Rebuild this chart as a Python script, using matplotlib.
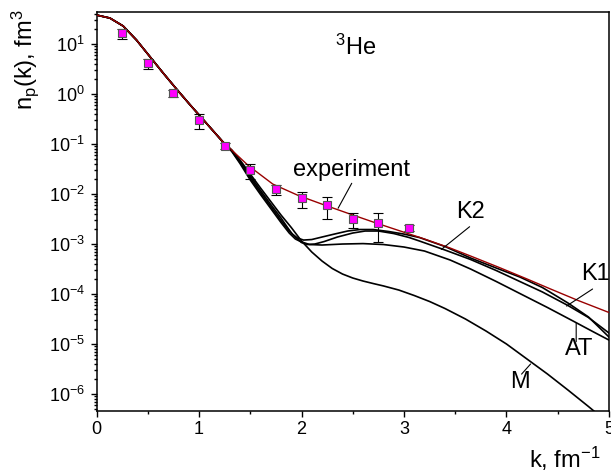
import matplotlib
matplotlib.use("Agg")
import matplotlib.pyplot as plt
from matplotlib.ticker import LogLocator, MultipleLocator, NullFormatter

plt.rcParams['font.family'] = ['Liberation Sans', 'DejaVu Sans']
plt.rcParams['mathtext.fontset'] = 'custom'
plt.rcParams['mathtext.rm'] = 'Liberation Sans'
plt.rcParams['mathtext.it'] = 'Liberation Sans:italic'
plt.rcParams['mathtext.bf'] = 'Liberation Sans:bold'
plt.rcParams['mathtext.default'] = 'regular'

# experimental points, 3He proton momentum distribution
k_exp = [0.25, 0.5, 0.75, 1.0, 1.25, 1.5, 1.75, 2.0, 2.25, 2.5, 2.75, 3.05]
n_exp = [16.3, 4.1, 1.03, 0.30, 0.091, 0.030, 0.0124, 0.0082, 0.0060, 0.0031, 0.0026, 0.0021]
err_exp = [3.7, 1.0, 0.15, 0.10, 0.012, 0.010, 0.0028, 0.0030, 0.0029, 0.0010, 0.0015, 0.0003]

# fit to experiment (red line)
k_fit = [0, 0.13, 0.26, 0.39, 0.52, 0.65, 0.78, 0.91, 1.04, 1.23, 1.48, 1.72, 1.97, 2.21,
         2.46, 2.70, 2.95, 3.2, 3.45, 3.65, 3.93, 4.2, 4.43, 4.7, 5.0]
n_fit = [38.0, 33.1, 22.9, 12.0, 5.62, 2.63, 1.26, 0.617, 0.309, 0.112, 0.0372, 0.0158,
         9.33e-3, 6.17e-3, 4.07e-3, 2.75e-3, 1.86e-3, 1.26e-3, 8.32e-4, 5.75e-4, 3.39e-4,
         2.0e-4, 1.26e-4, 7.41e-5, 4.27e-5]

# all models coincide with the fit below k ~ 1.25
k_low = [0, 0.13, 0.26, 0.39, 0.52, 0.65, 0.78, 0.91, 1.04, 1.23]
n_low = [38.0, 33.1, 22.9, 12.0, 5.62, 2.63, 1.26, 0.617, 0.309, 0.112]

k_K1 = [1.32, 1.4, 1.5, 1.6, 1.7, 1.8, 1.86, 1.91, 1.96, 2.02, 2.1, 2.2, 2.32, 2.45, 2.57,
        2.7, 2.85, 3.0, 3.15, 3.4, 3.65, 3.9, 4.13, 4.35, 4.6, 4.8, 5.0]
n_K1 = [0.0741, 0.0447, 0.0229, 0.01175, 6.17e-3, 3.31e-3, 2.19e-3, 1.58e-3, 1.32e-3, 1.20e-3,
        1.23e-3, 1.38e-3, 1.58e-3, 1.82e-3, 1.95e-3, 1.95e-3, 1.78e-3, 1.58e-3, 1.35e-3,
        8.91e-4, 5.25e-4, 3.31e-4, 2.19e-4, 1.35e-4, 6.61e-5, 3.47e-5, 1.38e-5]

k_K2 = [1.32, 1.4, 1.5, 1.6, 1.7, 1.8, 1.88, 1.95, 2.0, 2.06, 2.13, 2.22, 2.35, 2.5, 2.62,
        2.75, 2.9, 3.05, 3.15, 3.4, 3.65, 3.9, 4.13, 4.35, 4.6, 4.8, 5.0]
n_K2 = [0.0724, 0.0427, 0.0209, 0.0107, 5.62e-3, 2.95e-3, 1.82e-3, 1.32e-3, 1.07e-3, 9.77e-4,
        1.0e-3, 1.12e-3, 1.38e-3, 1.66e-3, 1.82e-3, 1.82e-3, 1.62e-3, 1.35e-3, 1.15e-3,
        7.59e-4, 4.90e-4, 2.95e-4, 1.78e-4, 1.10e-4, 5.89e-5, 3.39e-5, 1.66e-5]

k_AT = [1.32, 1.4, 1.5, 1.6, 1.7, 1.8, 1.88, 1.94, 2.0, 2.08, 2.2, 2.4, 2.6, 2.8, 3.0, 3.2,
        3.45, 3.65, 3.9, 4.15, 4.4, 4.65, 4.85, 5.0]
n_AT = [0.0708, 0.0407, 0.0191, 9.77e-3, 5.13e-3, 2.69e-3, 1.66e-3, 1.26e-3, 1.10e-3, 9.77e-4,
        9.55e-4, 1.0e-3, 1.02e-3, 9.77e-4, 8.71e-4, 7.24e-4, 4.79e-4, 3.16e-4, 1.78e-4,
        9.77e-5, 5.37e-5, 2.88e-5, 1.74e-5, 1.20e-5]

k_M = [1.32, 1.4, 1.5, 1.6, 1.7, 1.8, 1.9, 2.0, 2.1, 2.2, 2.3, 2.4, 2.5, 2.6, 2.7, 2.8, 2.95,
       3.1, 3.25, 3.4, 3.6, 3.8, 4.0, 4.2, 4.4, 4.6, 4.8, 4.9]
n_M = [0.0759, 0.0479, 0.0251, 0.0132, 7.08e-3, 3.80e-3, 2.14e-3, 1.15e-3, 6.92e-4, 4.57e-4,
       3.24e-4, 2.51e-4, 2.09e-4, 1.82e-4, 1.62e-4, 1.45e-4, 1.20e-4, 9.33e-5, 7.08e-5,
       5.13e-5, 3.16e-5, 1.82e-5, 1.0e-5, 5.01e-6, 2.51e-6, 1.20e-6, 5.62e-7, 3.80e-7]

fig = plt.figure(figsize=(6.11, 4.75), dpi=100)
ax = fig.add_axes([0.158, 0.1347, 0.8387, 0.84])

# model curves (black), drawn under the fit
for k_tail, n_tail in [(k_K1, n_K1), (k_K2, n_K2), (k_AT, n_AT), (k_M, n_M)]:
    ax.plot(k_low + k_tail, n_low + n_tail, color='black', lw=1.2, zorder=2)

ax.plot(k_fit, n_fit, color='#990000', lw=1.0, zorder=3)

ax.errorbar(k_exp, n_exp, yerr=err_exp, fmt='none', ecolor='black', elinewidth=0.8,
            capsize=3.5, capthick=0.8, zorder=4)
ax.plot(k_exp, n_exp, 's', color='#ff00ff', markersize=5.5, markeredgecolor='#555555',
        markeredgewidth=0.8, zorder=5)

ax.set_yscale('log')
ax.set_xlim(0, 5)
ax.set_ylim(4.57e-7, 43.7)

ax.xaxis.set_major_locator(MultipleLocator(1))
ax.xaxis.set_minor_locator(MultipleLocator(0.5))
ax.yaxis.set_major_locator(LogLocator(base=10, numticks=20))
ax.yaxis.set_minor_locator(LogLocator(base=10, subs=[2, 3, 4, 5, 6, 7, 8, 9], numticks=20))
ax.yaxis.set_minor_formatter(NullFormatter())

ax.tick_params(which='both', direction='out', top=False, right=False, width=1.0,
               labelsize=13)
ax.tick_params(which='major', length=4.5)
ax.tick_params(which='minor', length=2.5)
ax.tick_params(axis='y', pad=4)
ax.tick_params(axis='x', pad=3)
for s in ax.spines.values():
    s.set_linewidth(1.1)

# labels
fig.text(31.7 / 611, 0.874, r'n$_p$(k), fm$^3$', fontsize=17, rotation=90,
         rotation_mode='anchor', ha='center', va='baseline')
fig.text(529 / 611, 7 / 475, r'k, fm$^{-1}$', fontsize=17, ha='left', va='baseline')

ax.text(2.325, 6.0, r'$^{3}$He', fontsize=17, ha='left', va='baseline')

line_kw = dict(arrowstyle='-', color='black', lw=0.8, shrinkA=0, shrinkB=0)
ax.text(1.915, 0.0229, 'experiment', fontsize=17, ha='left', va='baseline')
ax.annotate('', xy=(2.357, 0.0052), xytext=(2.49, 0.0164), arrowprops=line_kw)
ax.text(3.51, 3.27e-3, 'K2', fontsize=17, ha='left', va='baseline')
ax.annotate('', xy=(3.365, 7.8e-4), xytext=(3.64, 2.22e-3), arrowprops=line_kw)
ax.text(4.73, 1.9e-4, 'K1', fontsize=17, ha='left', va='baseline')
ax.annotate('', xy=(4.586, 5.75e-5), xytext=(4.84, 1.26e-4), arrowprops=line_kw)
ax.text(4.566, 6.0e-6, 'AT', fontsize=17, ha='left', va='baseline')
ax.annotate('', xy=(4.68, 2.6e-5), xytext=(4.68, 1.11e-5), arrowprops=line_kw)
ax.text(4.04, 1.3e-6, 'M', fontsize=17, ha='left', va='baseline')
ax.annotate('', xy=(4.235, 3.98e-6), xytext=(4.147, 2.5e-6), arrowprops=line_kw)

fig.savefig('out.png', dpi=100)
